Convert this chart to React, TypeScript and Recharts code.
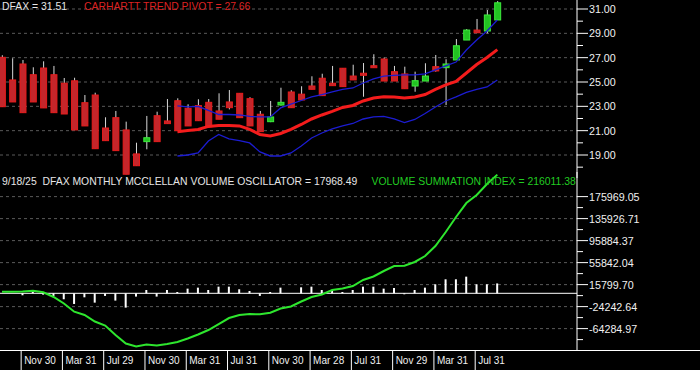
import { ComposedChart, Bar, Line, XAxis, YAxis, CartesianGrid, ReferenceLine } from "recharts"

// monthly candles, Sep 2021 .. Sep 2025
const opens = [27.03, 25.17, 26.48, 25.6, 26.15, 25.6, 24.9, 25.1, 23.3, 23.93, 21.22, 22.07, 21.06, 19.09, 20.1, 22.23, 21.8, 23.46, 22.84, 23.06, 23.33, 22.62, 23.36, 24.07, 23.63, 22.35, 21.74, 23.11, 24.18, 24.0, 24.67, 25.31, 24.9, 26.13, 25.49, 25.72, 26.34, 26.89, 25.85, 25.66, 24.67, 25.08, 26.26, 26.18, 26.81, 28.45, 29.27, 29.19, 30.1]
const highs = [27.2, 26.95, 26.81, 26.21, 26.7, 26.32, 25.33, 25.35, 23.93, 24.12, 22.1, 22.62, 21.74, 20.01, 22.21, 22.56, 23.6, 23.66, 23.17, 23.58, 23.6, 24.07, 24.34, 24.07, 23.75, 22.62, 23.44, 24.53, 24.32, 24.65, 25.47, 25.68, 26.32, 26.13, 26.42, 26.56, 27.28, 27.0, 26.32, 26.26, 25.85, 26.54, 27.22, 26.87, 28.53, 29.35, 30.18, 30.92, 31.65]
const lows = [22.97, 23.36, 22.48, 23.36, 22.87, 22.48, 22.37, 21.06, 21.39, 19.52, 20.18, 19.36, 17.42, 18.12, 19.47, 20.1, 21.58, 21.0, 21.39, 21.82, 21.33, 21.94, 22.75, 22.07, 21.39, 20.92, 21.7, 23.05, 22.89, 23.52, 24.4, 23.88, 24.7, 24.62, 25.17, 23.79, 26.18, 25.08, 25.08, 24.45, 24.2, 25.08, 25.85, 23.11, 26.81, 28.45, 29.05, 29.0, 30.1]
const closes = [22.97, 23.36, 22.48, 23.36, 22.87, 22.48, 22.37, 21.06, 21.39, 19.52, 20.18, 19.36, 17.42, 18.12, 20.42, 20.1, 21.58, 21.0, 21.39, 21.82, 21.33, 21.94, 22.89, 22.07, 21.39, 20.92, 22.13, 23.33, 22.89, 23.52, 24.4, 23.88, 24.7, 24.62, 25.17, 25.55, 26.18, 25.08, 25.08, 24.45, 25.11, 25.49, 25.91, 26.48, 27.98, 29.27, 29.05, 30.51, 31.51]

const N = null
const trendPivot = [N, N, N, N, N, N, N, N, N, N, N, N, N, N, N, N, N, 20.92, 21.02, 21.1, 21.35, 21.43, 21.43, 21.39, 21.1, 20.69, 20.56, 20.77, 21.1, 21.51, 21.96, 22.29, 22.58, 22.91, 23.07, 23.44, 23.69, 23.79, 23.77, 23.69, 23.77, 23.97, 24.39, 24.76, 25.04, 25.74, 26.44, 27.01, 27.66]
const upperBand = [N, N, N, N, N, N, N, N, N, N, N, N, N, N, N, N, N, 23.03, 22.95, 22.99, 22.66, 22.33, 22.33, 22.29, 22.17, 22.13, 22.13, 22.87, 23.19, 23.48, 23.77, 23.97, 24.18, 24.39, 24.51, 24.92, 25.25, 25.49, 25.54, 25.58, 25.58, 25.66, 25.99, 26.32, 26.64, 27.63, 28.45, 29.19, 30.1]
const lowerBand = [N, N, N, N, N, N, N, N, N, N, N, N, N, N, N, N, N, 18.92, 19.0, 19.17, 20.15, 20.69, 20.32, 20.19, 19.99, 19.25, 18.92, 18.92, 19.17, 19.74, 20.4, 20.81, 21.14, 21.39, 21.59, 21.96, 22.13, 22.17, 21.96, 21.67, 21.92, 22.41, 22.95, 23.44, 23.77, 24.14, 24.39, 24.59, 25.17]

const oscillator = [0, 0, -3600, 4200, -2400, -4800, -10900, -19400, -7300, -17000, -4800, -13300, -26100, -6000, 6000, -6000, 6000, 2400, 8500, 10300, 6000, 12100, 12100, 7300, 4200, -4800, 2400, 10300, 0, 10900, 12100, 6000, 4800, 2400, 6000, 12100, 12100, 8500, 9700, -1800, 6000, 10300, 16400, 25500, 25500, 30300, 16400, 16400, 17968.49]
const summation = [2900, 2900, 3300, 4700, 1800, -6700, -18600, -33500, -39500, -51300, -58600, -75900, -91400, -96800, -93200, -95000, -92300, -88600, -82300, -75000, -66800, -55900, -45000, -39500, -37700, -38200, -35300, -27700, -24000, -14900, -6700, -2200, 6000, 8700, 13300, 24200, 30600, 40600, 49700, 50200, 57000, 67900, 86100, 111600, 138900, 164300, 178900, 198900, 216011.38]

const tickIdx = [2, 6, 10, 14, 18, 22, 26, 30, 34, 38, 42, 46]
const tickLabels = ["Nov 30", "Mar 31", "Jul 29", "Nov 30", "Mar 31", "Jul 31", "Nov 30", "Mar 28", "Jul 31", "Nov 29", "Mar 31", "Jul 31"]

const priceMajors = [19, 21, 23, 25, 27, 29, 31]
const priceMinors = [18, 20, 22, 24, 26, 28, 30]
const volMajors = [175969.05, 135926.71, 95884.37, 55842.04, 15799.7, -24242.64, -64284.97]
const volMinors = [155947.88, 115905.54, 75863.21, 35820.87, -4221.47, -44263.81, -84306.14]

const data = opens.map((o, i) => ({
  i,
  open: o,
  high: highs[i],
  low: lows[i],
  close: closes[i],
  range: [lows[i], highs[i]],
  trend: trendPivot[i],
  upper: upperBand[i],
  lower: lowerBand[i],
  osc: oscillator[i],
  sum: summation[i],
}))

const FONT = "Liberation Sans, Arial, sans-serif"
const AXIS_X = 577
const X_DOMAIN = [-0.194, 55.72]

function Candle(props: any) {
  const { x, y, width, height, payload } = props
  const { open, close, high, low } = payload
  const k = height / (high - low)
  const cx = x + width / 2
  const top = y + (high - Math.max(open, close)) * k
  const bh = Math.max(2, Math.abs(open - close) * k)
  const up = close >= open
  return (
    <g>
      <line x1={cx} x2={cx} y1={y} y2={y + height} stroke="#d8d8d8" strokeWidth={1} />
      <rect
        x={x + 0.5}
        y={top}
        width={width - 1}
        height={bh}
        fill={up ? "#22c322" : "#c4262b"}
        stroke={up ? "#3cea3c" : "#e81c1c"}
        strokeWidth={1}
      />
    </g>
  )
}

function RightTick(props: any) {
  const { y, payload, majors, fmt } = props
  const v = payload.value
  const major = majors.includes(v)
  return (
    <g>
      <line x1={AXIS_X} x2={major ? AXIS_X + 11 : AXIS_X + 6} y1={y} y2={y} stroke="#ffffff" />
      {major && (
        <text x={AXIS_X + 12} y={y + 4} fill="#f0f0f0" fontSize={10.7} fontFamily={FONT}>
          {fmt(v)}
        </text>
      )}
    </g>
  )
}

function DateTick(props: any) {
  const { x, y, payload } = props
  const k = tickIdx.indexOf(payload.value)
  return (
    <g>
      <line x1={x - 1.5} x2={x - 1.5} y1={y} y2={y + 20} stroke="#ffffff" />
      <text x={x + 1.5} y={y + 13.5} fill="#f0f0f0" fontSize={10} fontFamily={FONT}>
        {tickLabels[k]}
      </text>
    </g>
  )
}

export default function App() {
  return (
    <div style={{ position: "fixed", left: 0, top: 0, width: 700, height: 370, background: "#000", overflow: "hidden" }}>
      <div style={{ position: "absolute", left: 0, top: 0 }}>
        <ComposedChart width={700} height={178} data={data} margin={{ top: 0, right: 0, bottom: 0, left: 0 }}>
          <CartesianGrid horizontalValues={priceMajors} vertical={false} stroke="#5a5a5a" strokeDasharray="3 3" />
          <XAxis dataKey="i" type="number" domain={X_DOMAIN} allowDataOverflow hide />
          <YAxis
            orientation="right"
            width={123}
            domain={[17.11, 31.74]}
            allowDataOverflow
            ticks={[...priceMajors, ...priceMinors].sort((a, b) => a - b)}
            interval={0}
            axisLine={{ stroke: "#ffffff" }}
            tickLine={false}
            tick={(p: any) => <RightTick {...p} majors={priceMajors} fmt={(v: number) => v.toFixed(2)} />}
          />
          <Bar dataKey="range" barSize={7} shape={<Candle />} isAnimationActive={false} />
          <Line dataKey="lower" stroke="#1c1cd2" strokeWidth={1.3} dot={false} isAnimationActive={false} />
          <Line dataKey="upper" stroke="#1c1cd2" strokeWidth={1.3} dot={false} isAnimationActive={false} />
          <Line dataKey="trend" stroke="#f41c1c" strokeWidth={3} dot={false} isAnimationActive={false} />
        </ComposedChart>
      </div>
      <div style={{ position: "absolute", left: 0, top: 172 }}>
        <ComposedChart width={700} height={198} data={data} margin={{ top: 0, right: 0, bottom: 0, left: 0 }}>
          <CartesianGrid horizontalValues={volMajors} vertical={false} stroke="#5a5a5a" strokeDasharray="3 3" />
          <XAxis
            dataKey="i"
            type="number"
            domain={X_DOMAIN}
            allowDataOverflow
            ticks={tickIdx}
            interval={0}
            height={20}
            axisLine={false}
            tickLine={false}
            tickSize={0}
            tickMargin={0}
            tick={(p: any) => <DateTick {...p} />}
          />
          <YAxis
            orientation="right"
            width={123}
            domain={[-103200, 220780]}
            allowDataOverflow
            ticks={[...volMajors, ...volMinors].sort((a, b) => a - b)}
            interval={0}
            axisLine={{ stroke: "#ffffff" }}
            tickLine={false}
            tick={(p: any) => <RightTick {...p} majors={volMajors} fmt={(v: number) => v.toFixed(2)} />}
          />
          <ReferenceLine y={0} stroke="#ffffff" strokeWidth={1} />
          <Bar dataKey="osc" barSize={2} fill="#ffffff" isAnimationActive={false} />
          <Line dataKey="sum" stroke="#2ee62e" strokeWidth={2} dot={false} isAnimationActive={false} />
        </ComposedChart>
      </div>
      <svg width={700} height={370} style={{ position: "absolute", left: 0, top: 0, pointerEvents: "none" }}>
        <line x1={0} x2={700} y1={350.5} y2={350.5} stroke="#ffffff" />
        <text x={2} y={10} fill="#e6e6e6" fontSize={10.4} fontFamily={FONT}>DFAX = 31.51</text>
        <text x={84} y={10} fill="#dc2222" fontSize={10.4} fontFamily={FONT}>CARHARTT TREND PIVOT = 27.66</text>
        <text x={2} y={185} fill="#e6e6e6" fontSize={10.4} fontFamily={FONT} style={{ whiteSpace: "pre" }}>9/18/25  DFAX MONTHLY MCCLELLAN VOLUME OSCILLATOR = 17968.49</text>
        <text x={371.5} y={185} fill="#22cc22" fontSize={10.4} fontFamily={FONT}>VOLUME SUMMATION INDEX = 216011.38</text>
      </svg>
    </div>
  )
}
